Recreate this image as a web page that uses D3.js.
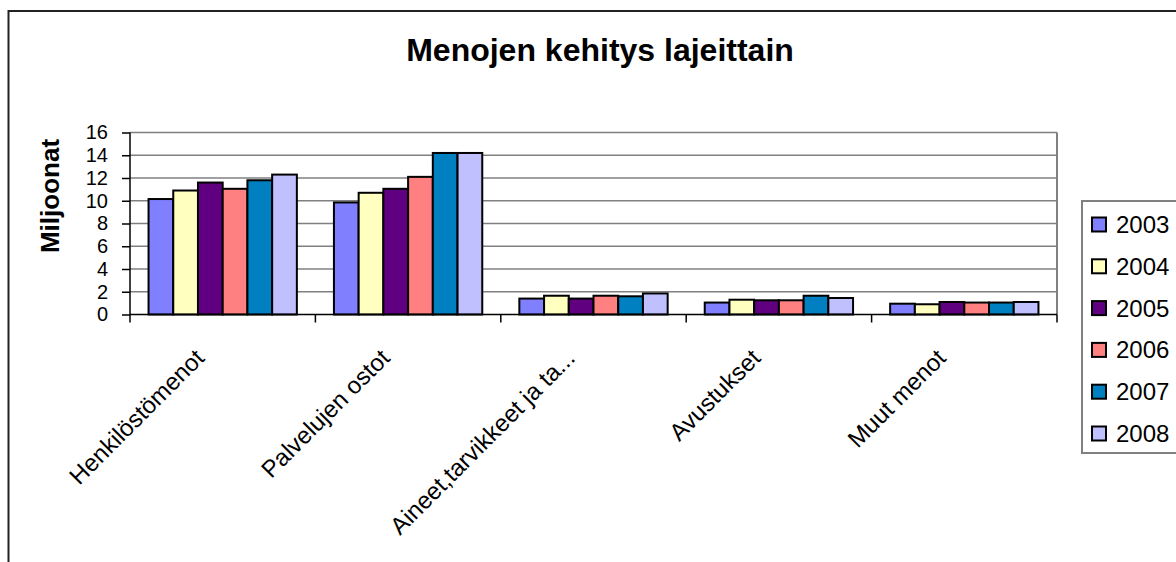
<!DOCTYPE html>
<html>
<head>
<meta charset="utf-8">
<script src="https://cdn.jsdelivr.net/npm/d3@7"></script>
<style>
  body { margin: 0; background: #fff; }
  text { font-family: Arial, "Liberation Sans", sans-serif; }
</style>
</head>
<body>
<div id="chart"></div>
<script>
// data (millions)
var categories = ["Henkilöstömenot", "Palvelujen ostot", "Aineet,tarvikkeet ja ta...", "Avustukset", "Muut menot"];
var years = ["2003", "2004", "2005", "2006", "2007", "2008"];
var v2003 = [10.15, 9.85, 1.4, 1.05, 0.95];
var v2004 = [10.9, 10.7, 1.65, 1.3, 0.9];
var v2005 = [11.6, 11.05, 1.4, 1.25, 1.1];
var v2006 = [11.05, 12.1, 1.65, 1.25, 1.05];
var v2007 = [11.8, 14.2, 1.6, 1.65, 1.05];
var v2008 = [12.3, 14.2, 1.85, 1.45, 1.1];
var yTicks = [0, 2, 4, 6, 8, 10, 12, 14, 16];
var colors = ["#8080FF", "#FFFFC0", "#600080", "#FF8080", "#0080C0", "#C0C0FF"];

var seriesValues = [v2003, v2004, v2005, v2006, v2007, v2008];

var W = 1176, H = 562;
var plot = { left: 130, right: 1057, top: 132.5, bottom: 314.5 };

var svg = d3.select("#chart").append("svg")
    .attr("width", W)
    .attr("height", H);

// outer chart border (runs off the right / bottom edge)
svg.append("rect")
    .attr("x", 8.5).attr("y", 11)
    .attr("width", 1300).attr("height", 700)
    .attr("fill", "none")
    .attr("stroke", "#222")
    .attr("stroke-width", 2);

// title
svg.append("text")
    .attr("x", 600).attr("y", 61)
    .attr("text-anchor", "middle")
    .attr("font-size", "32px")
    .attr("font-weight", "bold")
    .text("Menojen kehitys lajeittain");

var x0 = d3.scaleBand()
    .domain(categories)
    .range([plot.left, plot.right]);

var x1 = d3.scaleBand()
    .domain(years)
    .range([0, x0.bandwidth()])
    .paddingOuter(0.75);

var y = d3.scaleLinear()
    .domain([0, 16])
    .range([plot.bottom, plot.top]);

// gridlines
svg.append("g").selectAll("line")
    .data(yTicks.filter(function(d){ return d > 0; }))
    .enter().append("line")
    .attr("x1", plot.left).attr("x2", plot.right)
    .attr("y1", function(d){ return y(d); })
    .attr("y2", function(d){ return y(d); })
    .attr("stroke", "#808080")
    .attr("stroke-width", 1.5);

// right edge of plot area
svg.append("line")
    .attr("x1", plot.right).attr("x2", plot.right)
    .attr("y1", plot.top).attr("y2", plot.bottom)
    .attr("stroke", "#808080")
    .attr("stroke-width", 2);

// bars
var groups = svg.append("g").selectAll("g")
    .data(years)
    .enter().append("g")
    .attr("fill", function(d, i){ return colors[i]; });

groups.selectAll("rect")
    .data(function(d, i){
        return seriesValues[i].map(function(v, j){
            return { year: d, cat: categories[j], value: v };
        });
    })
    .enter().append("rect")
    .attr("x", function(d){ return x0(d.cat) + x1(d.year); })
    .attr("width", x1.bandwidth())
    .attr("y", function(d){ return y(d.value); })
    .attr("height", function(d){ return y(0) - y(d.value); })
    .attr("stroke", "#000")
    .attr("stroke-width", 2);

// y axis
var yAxis = svg.append("g")
    .attr("transform", "translate(" + plot.left + ",0)")
    .call(d3.axisLeft(y).tickValues(yTicks).tickSize(8).tickPadding(14).tickFormat(d3.format("d")));
yAxis.select(".domain").attr("stroke", "#000").attr("stroke-width", 1.5).attr("d", "M0," + plot.top + "V" + plot.bottom);
yAxis.selectAll(".tick line").attr("stroke", "#000").attr("stroke-width", 1.5);
yAxis.selectAll("text")
    .attr("font-size", "20px")
    .attr("font-family", "Arial, 'Liberation Sans', sans-serif")
    .attr("fill", "#000");

// x axis
var xAxis = svg.append("g")
    .attr("transform", "translate(0," + plot.bottom + ")")
    .call(d3.axisBottom(x0).tickSize(0).tickFormat(""));
xAxis.select(".domain").attr("stroke", "#000").attr("stroke-width", 1.5).attr("d", "M" + plot.left + ",0H" + plot.right);

// category boundary ticks
var bounds = categories.map(function(c){ return x0(c); }).concat([plot.right]);
xAxis.selectAll(".bound")
    .data(bounds)
    .enter().append("line")
    .attr("class", "bound")
    .attr("x1", function(d){ return d; }).attr("x2", function(d){ return d; })
    .attr("y1", 0).attr("y2", 8)
    .attr("stroke", "#000")
    .attr("stroke-width", 1.5);

// rotated category labels
svg.append("g").selectAll("text")
    .data(categories)
    .enter().append("text")
    .attr("text-anchor", "end")
    .attr("font-size", "24px")
    .attr("transform", function(d){
        var cx = x0(d) + x0.bandwidth() / 2;
        return "translate(" + (cx - 17) + "," + (plot.bottom + 45) + ") rotate(-45)";
    })
    .text(function(d){ return d; });

// y axis title
svg.append("text")
    .attr("transform", "translate(59,196) rotate(-90)")
    .attr("text-anchor", "middle")
    .attr("font-size", "26px")
    .attr("font-weight", "bold")
    .text("Miljoonat");

// legend
var legend = svg.append("g");
legend.append("rect")
    .attr("x", 1082).attr("y", 201)
    .attr("width", 200).attr("height", 252)
    .attr("fill", "#fff")
    .attr("stroke", "#808080")
    .attr("stroke-width", 2);

var items = legend.selectAll(".item")
    .data(years)
    .enter().append("g")
    .attr("class", "item")
    .attr("transform", function(d, i){ return "translate(1092," + (224.5 + i * 41.8) + ")"; });

items.append("rect")
    .attr("x", 0).attr("y", -7)
    .attr("width", 14).attr("height", 14)
    .attr("fill", function(d, i){ return colors[i]; })
    .attr("stroke", "#000")
    .attr("stroke-width", 2);

items.append("text")
    .attr("x", 24).attr("y", 8.5)
    .attr("font-size", "24px")
    .text(function(d){ return d; });
</script>
</body>
</html>
